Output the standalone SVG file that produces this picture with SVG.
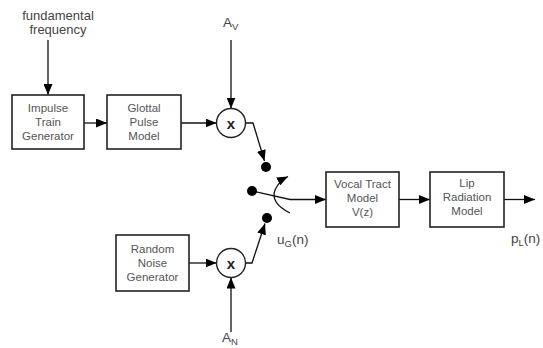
<svg xmlns="http://www.w3.org/2000/svg" width="543" height="348" viewBox="0 0 543 348">
<style>
.box{fill:#fff;stroke:#222;stroke-width:1.6}
.bt{font-family:"Liberation Sans",Arial,sans-serif;font-size:11.5px;fill:#555;text-anchor:middle}
.lbl{font-family:"Liberation Sans",Arial,sans-serif;font-size:13.5px;fill:#444}
.top{font-size:13px}
.sub{font-size:9.5px}
.mul{fill:#fff;stroke:#222;stroke-width:1.4}
.mx{font-family:"Liberation Sans",Arial,sans-serif;font-size:15px;font-weight:bold;fill:#222;text-anchor:middle}
.ln{fill:none;stroke:#111;stroke-width:1.3}
.dot{fill:#000}
</style>
<defs>
<marker id="ah" markerUnits="userSpaceOnUse" markerWidth="12" markerHeight="9" refX="11" refY="4.5" orient="auto">
<path d="M0,0 L11,4.5 L0,9 Z" fill="#000"/>
</marker>
</defs>
<g id="connectors">
<path class="ln" d="M48,40 V95" marker-end="url(#ah)"/>
<path class="ln" d="M84,123 H107" marker-end="url(#ah)"/>
<path class="ln" d="M181,123 H216.5" marker-end="url(#ah)"/>
<path class="ln" d="M231,40 V108.5" marker-end="url(#ah)"/>
<path class="ln" d="M245.5,123 H253 L264.5,161" marker-end="url(#ah)"/>
<path class="ln" d="M189,263 H216.5" marker-end="url(#ah)"/>
<path class="ln" d="M231,332 V277.5" marker-end="url(#ah)"/>
<path class="ln" d="M245.5,263 H252 L265,223.5" marker-end="url(#ah)"/>
<path class="ln" d="M252,191 L290,199.5 H326" marker-end="url(#ah)"/>
<path class="ln" d="M290,213 Q270,203 275,190 Q279,181 288,176.5" marker-end="url(#ah)"/>
<path class="ln" d="M399,199.5 H430" marker-end="url(#ah)"/>
<path class="ln" d="M504,199.5 H535" marker-end="url(#ah)"/>
</g>
<g id="fundamental_frequency">
<text class="lbl top" x="58" y="20" text-anchor="middle">fundamental</text>
<text class="lbl top" x="58" y="33.5" text-anchor="middle">frequency</text>
</g>
<g id="impulse_train_generator">
<rect class="box" x="12" y="95" width="72" height="54"/>
<text class="bt" x="48" y="112">Impulse</text>
<text class="bt" x="48" y="126">Train</text>
<text class="bt" x="48" y="140">Generator</text>
</g>
<g id="glottal_pulse_model">
<rect class="box" x="107" y="95" width="74" height="54"/>
<text class="bt" x="144" y="112">Glottal</text>
<text class="bt" x="144" y="126">Pulse</text>
<text class="bt" x="144" y="140">Model</text>
</g>
<g id="av">
<text class="lbl" x="223" y="27">A<tspan class="sub" dy="3">V</tspan></text>
</g>
<g id="multiplier_v">
<circle class="mul" cx="231" cy="123" r="14.5"/>
<text class="mx" x="231" y="128.5">x</text>
</g>
<g id="random_noise_generator">
<rect class="box" x="116" y="235" width="73" height="56"/>
<text class="bt" x="152.5" y="253">Random</text>
<text class="bt" x="152.5" y="267">Noise</text>
<text class="bt" x="152.5" y="281">Generator</text>
</g>
<g id="multiplier_n">
<circle class="mul" cx="231" cy="263" r="14.5"/>
<text class="mx" x="231" y="268.5">x</text>
</g>
<g id="an">
<text class="lbl" x="222" y="342">A<tspan class="sub" dy="3">N</tspan></text>
</g>
<g id="switch">
<circle class="dot" cx="266" cy="167" r="5"/>
<circle class="dot" cx="252" cy="191" r="5"/>
<circle class="dot" cx="267" cy="218" r="5"/>
</g>
<g id="ug">
<text class="lbl" x="277" y="244">u<tspan class="sub" dy="3">G</tspan><tspan dy="-3">(n)</tspan></text>
</g>
<g id="vocal_tract_model">
<rect class="box" x="326" y="172" width="73" height="55"/>
<text class="bt" x="362.5" y="188">Vocal Tract</text>
<text class="bt" x="362.5" y="202">Model</text>
<text class="bt" x="362.5" y="216">V(z)</text>
</g>
<g id="lip_radiation_model">
<rect class="box" x="430" y="172" width="74" height="55"/>
<text class="bt" x="467" y="187">Lip</text>
<text class="bt" x="467" y="201">Radiation</text>
<text class="bt" x="467" y="215">Model</text>
</g>
<g id="pl">
<text class="lbl" x="511" y="243">p<tspan class="sub" dy="3">L</tspan><tspan dy="-3">(n)</tspan></text>
</g>
</svg>
